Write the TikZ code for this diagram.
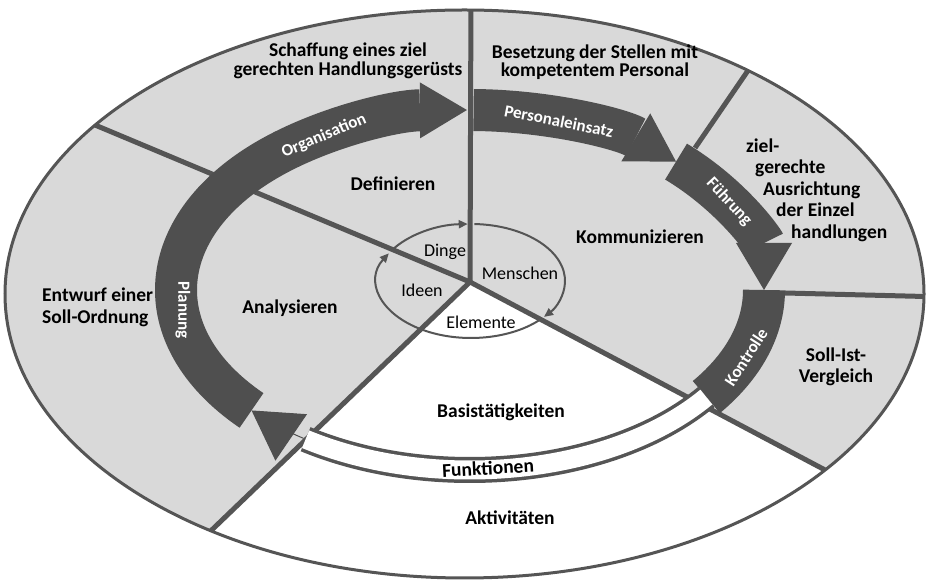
\documentclass[tikz,border=0pt]{standalone}
\usepackage{fontspec}
\setmainfont{Carlito}
\usetikzlibrary{arrows.meta, calc}
\definecolor{ringgray}{HTML}{D9D9D9}
\definecolor{bandgray}{HTML}{4F4F4F}
\definecolor{linegray}{HTML}{555555}

\begin{document}
\begin{tikzpicture}[x=1pt, y=1pt,
  sector/.style={linegray, line width=5pt},
  band/.style={bandgray, line width=42pt},
  bandtip/.style={-{Triangle[length=47pt, width=56pt, line width=0pt]}},
  bandlabel/.style={white, font=\bfseries\fontsize{17}{18}\selectfont, inner sep=0pt},
  fieldtext/.style={font=\bfseries\fontsize{19.5}{21.5}\selectfont, align=center, inner sep=0pt},
  toptext/.style={fieldtext, font=\bfseries\fontsize{19.5}{18.5}\selectfont},
  elemtext/.style={font=\fontsize{18}{20}\selectfont, inner sep=0pt},
  cycleline/.style={linegray, line width=2pt},
  cycletip/.style={-{Triangle[length=9pt, width=8pt]}}
]
  \useasboundingbox (0,0) rectangle (926,580);
  \coordinate (O) at (464.5,286); % outer ellipse
  \coordinate (C) at (470,298);   % hub of the sectors
  \coordinate (A) at (470,290);   % centre of the arrow ring
  \coordinate (I) at (471,299);   % small ellipse

  % areas
  \fill[ringgray] (O) ellipse[x radius=459.5, y radius=284];
  \fill[white] (C) -- ($(O)+(236.5:459.5 and 284)$)
    arc[start angle=236.5, end angle=321.7, x radius=459.5, y radius=284] -- cycle;

  % sector lines
  \draw[sector] (C) -- ($(O)+(143.5:459.5 and 284)$);
  \draw[sector] (C) -- ($(O)+(89.2:459.5 and 284)$);
  \draw[sector] (C) -- ($(O)+(236.5:459.5 and 284)$);
  \draw[sector] (C) -- ($(O)+(321.7:459.5 and 284)$);
  \draw[sector] (695,432) -- ($(O)+(51.9:459.5 and 284)$);
  \draw[sector] (785,287) -- ($(O)+(-0.5:459.5 and 284)$);

  % small cycle: Ideen, Dinge, Menschen, Elemente
  \draw[cycleline] (I) ++(-41:94 and 57) arc[start angle=-41, end angle=-121, x radius=94, y radius=57];
  \draw[cycleline, cycletip] (I) ++(239:94 and 57) arc[start angle=239, end angle=151, x radius=94, y radius=57];
  \draw[cycleline, cycletip] (I) ++(148:94 and 57) arc[start angle=148, end angle=92, x radius=94, y radius=57];
  \draw[cycleline, cycletip] (I) ++(88:94 and 57) arc[start angle=88, end angle=-39, x radius=94, y radius=57];

  % management arrows
  \draw[band, bandtip] (A) ++(222:294 and 180) arc[start angle=222, end angle=90.6, x radius=294, y radius=180];
  \draw[band, bandtip] (A) ++(89.3:294 and 180) arc[start angle=89.3, end angle=45.5, x radius=294, y radius=180];
  \draw[band, bandtip] (A) ++(45.5:294 and 180) arc[start angle=45.5, end angle=0, x radius=294, y radius=180];
  \draw[band] (A) ++(0:294 and 180) arc[start angle=0, end angle=-36.5, x radius=294, y radius=180];

  % Funktionen
  \draw[linegray, line width=3.5pt, double=white, double distance=19pt]
    (A) ++(-36.5:294 and 180) arc[start angle=-36.5, end angle=-124, x radius=294, y radius=180];
  \draw[bandgray, line width=1pt, -{Triangle[length=48pt, width=56pt]}]
    (A) ++(-124.5:294 and 180) arc[start angle=-124.5, end angle=-138, x radius=294, y radius=180];

  \draw[linegray, line width=3pt] (O) ellipse[x radius=459.5, y radius=284];

  % arrow labels
  \node[bandlabel, rotate=23] (organisation) at (324,444) {Organisation};
  \node[bandlabel, rotate=-90] (planung) at (183,270) {Planung};
  \node[bandlabel, rotate=-11] (personal) at (559,459) {Personaleinsatz};
  \node[bandlabel, rotate=-47] (fuehrung) at (729,378) {Führung};
  \node[bandlabel, rotate=57] (kontrolle) at (746,223) {Kontrolle};

  % field texts
  \node[toptext] (schaffung) at (348,519) {Schaffung eines ziel\\gerechten Handlungsgerüsts};
  \node[toptext] (besetzung) at (595,518) {Besetzung der Stellen mit\\kompetentem Personal};
  \node[fieldtext, align=left, anchor=west] (ausrichtung) at (746,390)
    {ziel-\\\hspace*{9pt}gerechte\\\hspace*{17pt}Ausrichtung\\\hspace*{30pt}der Einzel\\\hspace*{45pt}handlungen};
  \node[fieldtext, align=left, anchor=west] (entwurf) at (42,272.5) {Entwurf einer\\Soll-Ordnung};
  \node[fieldtext] (vergleich) at (836,213) {Soll-Ist-\\Vergleich};
  \node[fieldtext] (definieren) at (393,396) {Definieren};
  \node[fieldtext] (analysieren) at (290,272) {Analysieren};
  \node[fieldtext] (kommunizieren) at (640,343) {Kommunizieren};
  \node[fieldtext] (basis) at (501,168) {Basistätigkeiten};
  \node[fieldtext, rotate=3] (funktionen) at (488,112) {Funktionen};
  \node[fieldtext] (aktivitaeten) at (510,62) {Aktivitäten};

  % elements
  \node[elemtext] (dinge) at (445,328) {Dinge};
  \node[elemtext] (ideen) at (422,290) {Ideen};
  \node[elemtext] (menschen) at (520,307) {Menschen};
  \node[elemtext] (elemente) at (481,258) {Elemente};
\end{tikzpicture}
\end{document}
